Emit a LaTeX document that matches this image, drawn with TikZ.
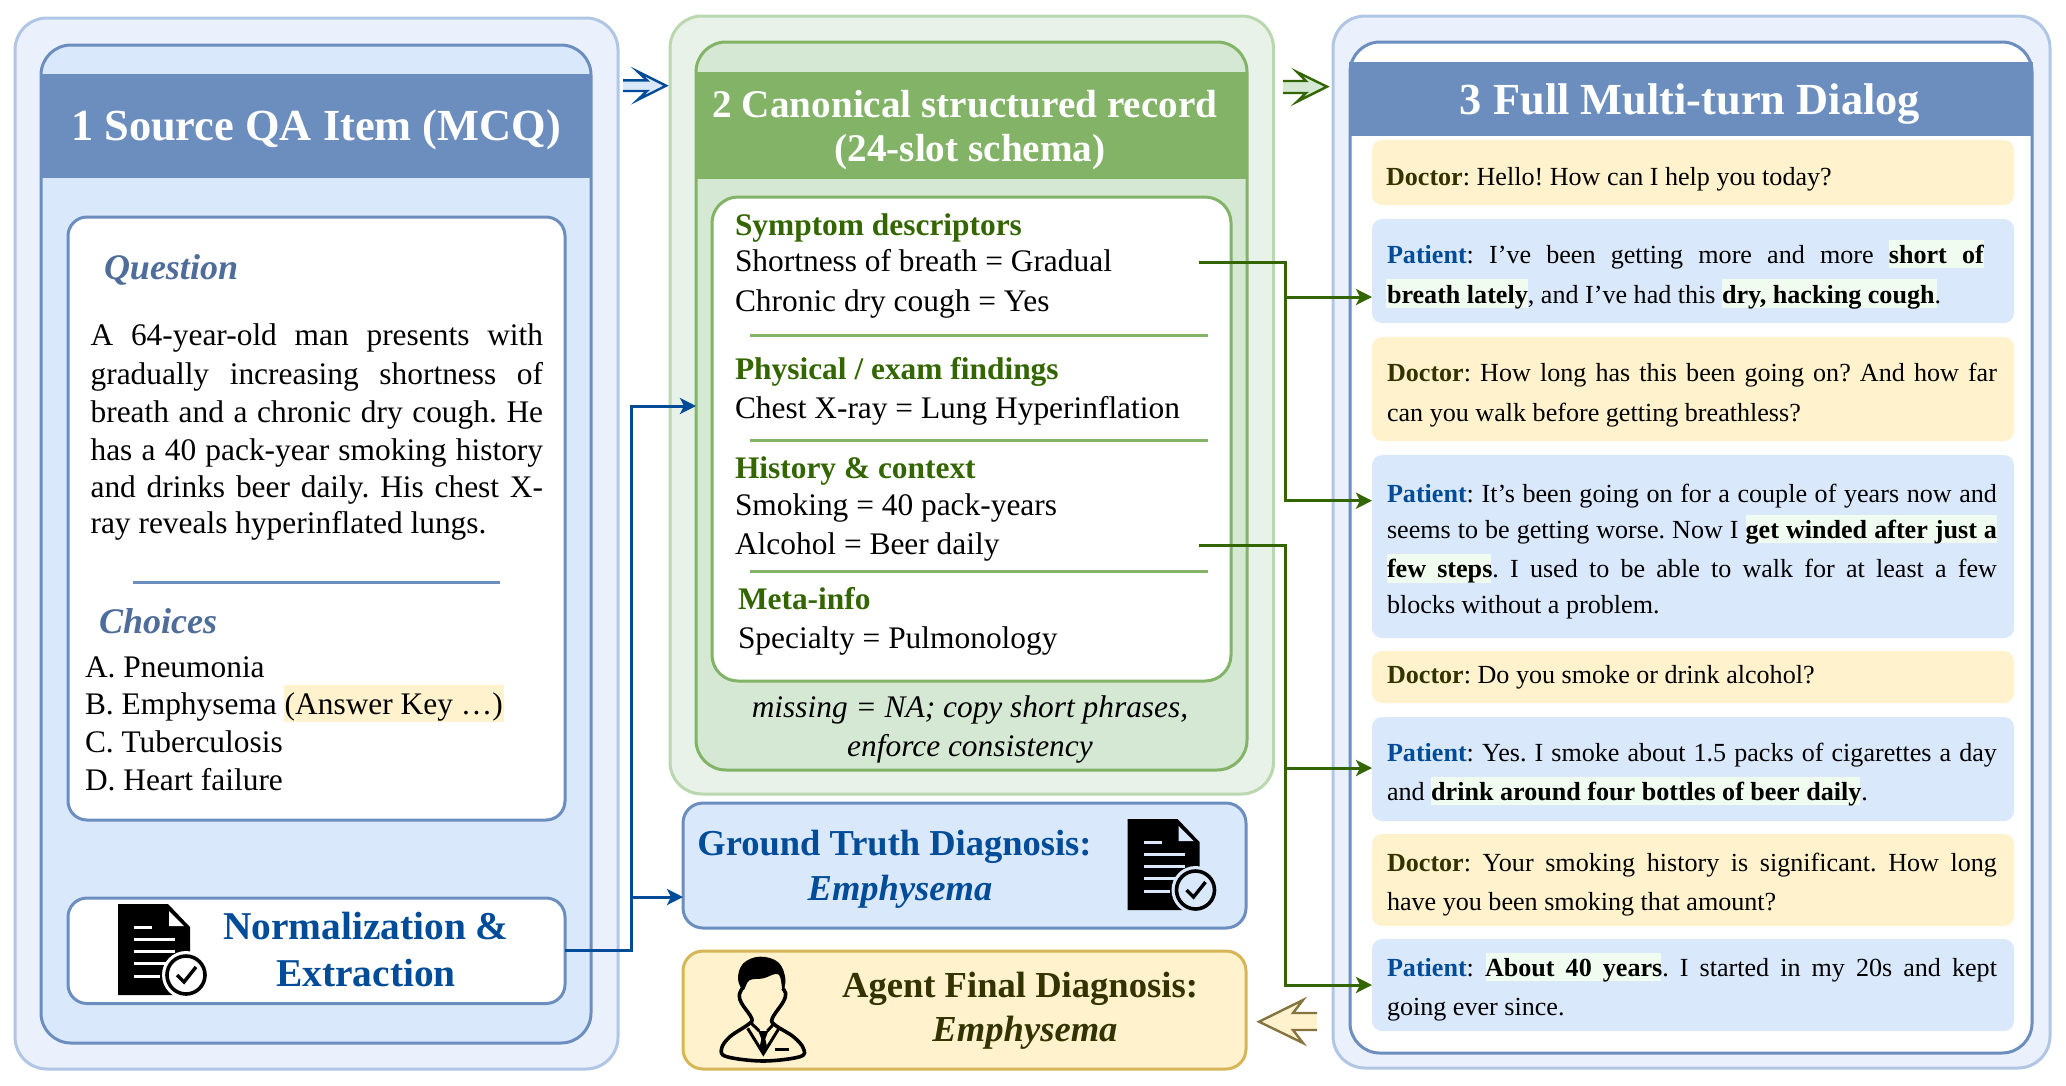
\documentclass[tikz,border=0pt]{standalone}
\usepackage{fontspec}
\setmainfont{Liberation Serif}
\usetikzlibrary{arrows.meta,calc}
\definecolor{bfill}{HTML}{DAE8FC}
\definecolor{bline}{HTML}{6C8EBF}
\definecolor{gfill}{HTML}{D5E8D4}
\definecolor{gline}{HTML}{82B366}
\definecolor{yfill}{HTML}{FFF2CC}
\definecolor{yline}{HTML}{D6B656}
\definecolor{boutfill}{HTML}{EAF1FC}
\definecolor{boutline}{HTML}{B0C6E4}
\definecolor{goutfill}{HTML}{E8F2E8}
\definecolor{goutline}{HTML}{B9D8AF}
\definecolor{dblue}{HTML}{004C99}
\definecolor{dgreen}{HTML}{336600}
\definecolor{dolive}{HTML}{333300}
\definecolor{qblue}{HTML}{4F6D9B}
\definecolor{hlgreen}{HTML}{EFFCEF}
\definecolor{yarrow}{HTML}{857340}
\frenchspacing
\tikzset{
  boxbase/.style={rectangle,inner sep=0pt,outer sep=0pt},
  outerb/.style={boxbase,fill=boutfill,draw=boutline,line width=3pt,rounded corners=32pt},
  outerg/.style={boxbase,fill=goutfill,draw=goutline,line width=3pt,rounded corners=32pt},
  innerb/.style={boxbase,fill=bfill,draw=bline,line width=3pt,rounded corners=30pt},
  innerg/.style={boxbase,fill=gfill,draw=gline,line width=3pt,rounded corners=30pt},
  innerw/.style={boxbase,fill=white,draw=bline,line width=3pt,rounded corners=30pt},
  headb/.style={boxbase,fill=bline},
  headg/.style={boxbase,fill=gline},
  cardb/.style={boxbase,fill=white,draw=bline,line width=3pt,rounded corners=19pt},
  cardg/.style={boxbase,fill=white,draw=gline,line width=3pt,rounded corners=26pt},
  resultb/.style={boxbase,fill=bfill,draw=bline,line width=3pt,rounded corners=20pt},
  resulty/.style={boxbase,fill=yfill,draw=yline,line width=3pt,rounded corners=20pt},
  bubbled/.style={boxbase,fill=yfill,rounded corners=10pt},
  bubblep/.style={boxbase,fill=bfill,rounded corners=10pt},
  hlg/.style={boxbase,fill=hlgreen},
  hly/.style={boxbase,fill=yfill},
  lbl/.style={inner sep=0pt,outer sep=0pt,anchor=base west},
  lblc/.style={inner sep=0pt,outer sep=0pt,anchor=base},
  bodyf/.style={font=\fontsize{31.4}{38}\selectfont},
  dlgf/.style={font=\fontsize{26.1}{32}\selectfont},
  titlef/.style={font=\fontsize{44.4}{50}\selectfont\bfseries,text=white},
  titlegf/.style={font=\fontsize{39.2}{44}\selectfont\bfseries,text=white},
  qhead/.style={font=\fontsize{36}{42}\selectfont\bfseries\itshape,text=qblue},
  ghead/.style={font=\fontsize{31.4}{38}\selectfont\bfseries,text=dgreen},
  bigb/.style={font=\fontsize{39.4}{44}\selectfont\bfseries,text=dblue},
  resb/.style={font=\fontsize{36.5}{42}\selectfont\bfseries,text=dblue},
  resbi/.style={font=\fontsize{36.5}{42}\selectfont\bfseries\itshape,text=dblue},
  resy/.style={font=\fontsize{36.6}{42}\selectfont\bfseries,text=dolive},
  resyi/.style={font=\fontsize{36.6}{42}\selectfont\bfseries\itshape,text=dolive},
  rulebl/.style={draw=bline,line width=3pt},
  rulegr/.style={draw=gline,line width=3pt},
  connb/.style={draw=dblue,line width=3pt},
  conng/.style={draw=dgreen,line width=3pt},
  tipped/.style={-{Stealth[length=16pt,width=16pt,inset=4pt]}},
  docicon/.pic={
    \fill[black] (0,0) -- (50,0) -- (72,23) -- (72,91) -- (0,91) -- cycle;
    \fill[#1] (51,7) -- (66,22) -- (51,22) -- cycle;
    \draw[#1,line width=3pt] (16,23) -- (34,23) (16,35) -- (57,35) (16,47) -- (57,47) (16,59) -- (50,59) (16,72) -- (42,72);
    \fill[#1] (68,71) circle[radius=24];
    \filldraw[fill=#1,draw=black,line width=3.6pt] (68,71) circle[radius=19];
    \draw[black,line width=3.4pt] (59,71) -- (66,78) -- (78,63);
  },
  personicon/.pic={
    \draw[black,line width=3.6pt,fill=yfill,line join=round] plot[smooth,tension=.6] coordinates {(98,128) (88,150) (95,175) (125,220) (115,238) (60,275) (35,310) (50,335) (160,348) (270,335) (280,310) (250,275) (195,240) (187,220) (220,170) (227,145) (218,130)};
    \fill[black] plot[smooth cycle,tension=.65] coordinates {(100,135) (84,100) (100,55) (150,35) (205,52) (226,100) (218,135) (205,88) (160,100) (118,106)};
    \draw[black,line width=3pt] (113,250) -- (160,326) -- (207,250) (125,236) -- (148,258) (192,236) -- (172,258);
    \fill[black] (145,258) -- (175,258) -- (166,282) -- (171,305) -- (160,326) -- (149,305) -- (154,282) -- cycle;
    \draw[black,line width=3pt] (195,313) -- (236,313);
  }
}
\newcommand{\boxat}[6]{\node[#1,anchor=north west,minimum width={(#5-#3)*1pt},minimum height={(#6-#4)*1pt}] (#2) at (#3,#4) {};}
\newcommand{\textat}[5]{\node[lbl,#1] (#2) at (#3,#4) {#5};}
\newcommand{\justat}[6]{\node[lbl,#1] (#2) at (#3,#4) {\makebox[#5pt][s]{#6}};}
\newcommand{\midat}[5]{\node[lblc,#1] (#2) at (#3,#4) {#5};}
\newcommand{\doc}{\textbf{\textcolor{dolive}{Doctor}}}
\newcommand{\pat}{\textbf{\textcolor{dblue}{Patient}}}
\begin{document}
\begin{tikzpicture}[x=1pt,y=-1pt]
\useasboundingbox (0,0) rectangle (2066,1085);
% column 1
\boxat{outerb}{out1}{15}{18}{618}{1069}
\boxat{innerb}{in1}{41}{45}{591}{1043}
\boxat{headb}{head1}{40}{74}{592}{178}
\midat{titlef}{t1}{316}{140}{1 Source QA Item (MCQ)}
\boxat{cardb}{qcard}{68}{217}{565}{820}
\textat{qhead}{qh}{104}{279}{Question}
\justat{bodyf}{q1}{90.6}{345}{452.5}{A 64-year-old man presents with}
\justat{bodyf}{q2}{90.6}{384}{452.5}{gradually increasing shortness of}
\justat{bodyf}{q3}{90.6}{422}{452.5}{breath and a chronic dry cough. He}
\justat{bodyf}{q4}{90.6}{460}{452.5}{has a 40 pack-year smoking history}
\justat{bodyf}{q5}{90.6}{497}{452.5}{and drinks beer daily. His chest X-}
\textat{bodyf}{q6}{90.6}{533}{ray reveals hyperinflated lungs.}
\coordinate (qra) at (133,582);
\coordinate (qrb) at (500,582);
\draw[rulebl] (qra) -- (qrb);
\textat{qhead}{ch}{99}{633}{Choices}
\boxat{hly}{akh}{284}{685}{504}{722}
\textat{bodyf}{ca}{85}{677}{A. Pneumonia}
\textat{bodyf}{cb}{85}{714}{B. Emphysema (Answer Key …)}
\textat{bodyf}{cc}{85}{752}{C. Tuberculosis}
\textat{bodyf}{cd}{85}{790}{D. Heart failure}
\boxat{cardb}{norm}{68}{898}{565}{1003.5}
\pic (ic1) at (118,904) {docicon=white};
\midat{bigb}{n1}{366}{939}{Normalization \&}
\midat{bigb}{n2}{366}{986}{Extraction}
% column 2
\boxat{outerg}{out2}{670}{16}{1273.5}{794}
\boxat{innerg}{in2}{696}{42}{1247}{770}
\boxat{headg}{head2}{695}{72}{1248}{179}
\midat{titlegf}{t2a}{965}{117}{2 Canonical structured record}
\midat{titlegf}{t2b}{970}{161}{(24-slot schema)}
\boxat{cardg}{rcard}{712}{197}{1231}{681}
\textat{ghead}{s1}{735}{235}{Symptom descriptors}
\textat{bodyf}{s2}{735}{271}{Shortness of breath = Gradual}
\textat{bodyf}{s3}{735}{311}{Chronic dry cough = Yes}
\coordinate (r1a) at (750,335);
\coordinate (r1b) at (1208,335);
\draw[rulegr] (r1a) -- (r1b);
\textat{ghead}{s4}{735}{379}{Physical / exam findings}
\textat{bodyf}{s5}{735}{418}{Chest X-ray = Lung Hyperinflation}
\coordinate (r2a) at (750,440);
\coordinate (r2b) at (1208,440);
\draw[rulegr] (r2a) -- (r2b);
\textat{ghead}{s6}{735}{478}{History \& context}
\textat{bodyf}{s7}{735}{515}{Smoking = 40 pack-years}
\textat{bodyf}{s8}{735}{554}{Alcohol = Beer daily}
\coordinate (r3a) at (750,571);
\coordinate (r3b) at (1208,571);
\draw[rulegr] (r3a) -- (r3b);
\textat{ghead}{s9}{738}{609}{Meta-info}
\textat{bodyf}{s10}{738}{648}{Specialty = Pulmonology}
\midat{bodyf}{m1}{970}{717}{\itshape missing = NA; copy short phrases,}
\midat{bodyf}{m2}{970}{756}{\itshape enforce consistency}
% results
\boxat{resultb}{gt}{683}{803}{1246}{928}
\midat{resb}{gt1}{894.5}{855}{Ground Truth Diagnosis:}
\midat{resbi}{gt2}{900}{900}{Emphysema}
\pic (ic2) at (1127.5,819) {docicon=bfill};
\boxat{resulty}{ag}{683}{951}{1246}{1069}
\midat{resy}{ag1}{1020}{997}{Agent Final Diagnosis:}
\midat{resyi}{ag2}{1025}{1041}{Emphysema}
\path (710,945) pic[x=0.3333pt,y=-0.3333pt] (ic3) {personicon};
% column 3
\boxat{outerb}{out3}{1333}{16}{2050}{1068}
\boxat{innerw}{in3}{1350}{42}{2032}{1053}
\boxat{headb}{head3}{1349}{62}{2033}{136}
\midat{titlef}{t3}{1690}{114}{3 Full Multi-turn Dialog}
\boxat{bubbled}{d1}{1372}{140}{2014}{205}
\boxat{bubblep}{p1}{1372}{219}{2014}{323}
\boxat{bubbled}{d2}{1372}{337}{2014}{441}
\boxat{bubblep}{p2}{1372}{455}{2014}{638}
\boxat{bubbled}{d3}{1372}{651}{2014}{703}
\boxat{bubblep}{p3}{1372}{717}{2014}{821}
\boxat{bubbled}{d4}{1372}{834}{2014}{926}
\boxat{bubblep}{p4}{1372}{939}{2014}{1031}
\boxat{hlg}{h1}{1889}{240}{1984}{268}
\boxat{hlg}{h2}{1386}{279}{1528}{308}
\boxat{hlg}{h3}{1721.6}{279}{1936.5}{308}
\boxat{hlg}{h4}{1745.5}{515}{1996.5}{543}
\boxat{hlg}{h5}{1387}{554}{1491}{583}
\boxat{hlg}{h6}{1431}{777}{1860}{805}
\boxat{hlg}{h7}{1486}{953}{1661}{981}
\textat{dlgf}{l1}{1386}{185}{\doc: Hello! How can I help you today?}
\justat{dlgf}{l2}{1387}{263}{597}{\pat: I’ve been getting more and more \textbf{short of}}
\textat{dlgf}{l3}{1387}{303}{\textbf{breath lately}, and I’ve had this \textbf{dry, hacking cough}.}
\justat{dlgf}{l4}{1387}{381}{610}{\doc: How long has this been going on? And how far}
\textat{dlgf}{l5}{1387}{421}{can you walk before getting breathless?}
\justat{dlgf}{l6}{1387}{502}{610}{\pat: It’s been going on for a couple of years now and}
\justat{dlgf}{l7}{1387}{538}{610}{seems to be getting worse. Now I \textbf{get winded after just a}}
\justat{dlgf}{l8}{1387}{577}{610}{\textbf{few steps}. I used to be able to walk for at least a few}
\textat{dlgf}{l9}{1387}{613}{blocks without a problem.}
\textat{dlgf}{l10}{1387}{683}{\doc: Do you smoke or drink alcohol?}
\justat{dlgf}{l11}{1387}{761}{610}{\pat: Yes. I smoke about 1.5 packs of cigarettes a day}
\textat{dlgf}{l12}{1387}{800}{and \textbf{drink around four bottles of beer daily}.}
\justat{dlgf}{l13}{1387}{871}{610}{\doc: Your smoking history is significant. How long}
\textat{dlgf}{l14}{1387}{910}{have you been smoking that amount?}
\justat{dlgf}{l15}{1387}{976}{610}{\pat: \textbf{About 40 years}. I started in my 20s and kept}
\textat{dlgf}{l16}{1387}{1015}{going ever since.}
% hollow arrows
\fill[bfill] (623,80.4) -- (647,80.4) -- (637.5,71.4) -- (666,85.7) -- (637.5,100) -- (647,91) -- (623,91) -- cycle;
\draw[dblue,line width=2.4pt,line join=miter] (623,80.4) -- (647,80.4) -- (637.5,71.4) -- (666,85.7) -- (637.5,100) -- (647,91) -- (623,91);
\fill[gfill] (1283,81) -- (1306,81) -- (1297,72) -- (1327,86.7) -- (1297,101.7) -- (1306,93) -- (1283,93) -- cycle;
\draw[dgreen,line width=2.4pt,line join=miter] (1283,81) -- (1306,81) -- (1297,72) -- (1327,86.7) -- (1297,101.7) -- (1306,93) -- (1283,93);
\fill[yfill] (1317,1013) -- (1293,1013) -- (1303,1000) -- (1259,1021.7) -- (1303,1043) -- (1293,1030) -- (1317,1030) -- cycle;
\draw[yarrow,line width=2.4pt,line join=miter] (1317,1013) -- (1293,1013) -- (1303,1000) -- (1259,1021.7) -- (1303,1043) -- (1293,1030) -- (1317,1030);
% connectors
\coordinate (bj1) at (631,406);
\coordinate (bj2) at (631,897);
\draw[connb,tipped] (norm.east) -| (bj1) -- (bj1 -| in2.west);
\draw[connb,tipped] (bj2) -- (bj2 -| gt.west);
\coordinate (gs1) at (1199,262);
\coordinate (gj1) at (1285,297);
\coordinate (gj2) at (1285,500.7);
\draw[conng,tipped] (gs1) -| (gj2) -- (gj2 -| p2.west);
\draw[conng,tipped] (gj1) -- (gj1 -| p1.west);
\coordinate (gs2) at (1199,545);
\coordinate (gj3) at (1285,768);
\coordinate (gj4) at (1285,985);
\draw[conng,tipped] (gs2) -| (gj4) -- (gj4 -| p4.west);
\draw[conng,tipped] (gj3) -- (gj3 -| p3.west);
\end{tikzpicture}
\end{document}
